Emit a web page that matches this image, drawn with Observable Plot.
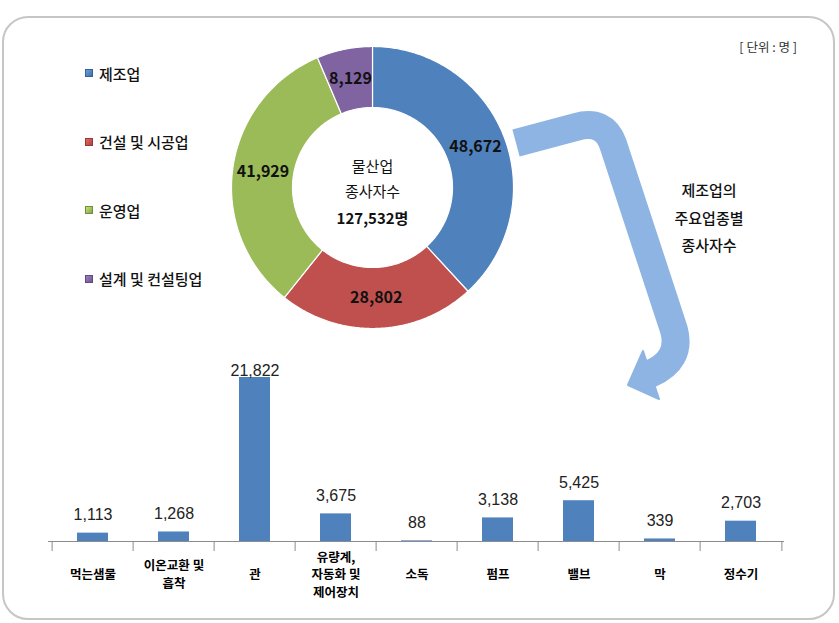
<!DOCTYPE html>
<html>
<head>
<meta charset="utf-8">
<script src="https://cdn.jsdelivr.net/npm/d3@7"></script>
<script src="https://cdn.jsdelivr.net/npm/@observablehq/plot@0.6"></script>
<style>
  body { margin: 0; background: #fff; }
  #wrap { position: relative; width: 839px; height: 623px; overflow: hidden; background: #fff;
          font-family: "Noto Sans CJK KR", "Noto Sans", sans-serif; color: #111; }
  #frame { position: absolute; left: 2px; top: 16px; width: 829px; height: 600px;
           border: 2px solid #c6c6c6; border-radius: 26px; }
  #donut { position: absolute; left: 222px; top: 37px; }
  #bars { position: absolute; left: 0; top: 340px; }
  #legend { position: absolute; left: 85px; top: 62px; }
  .item { display: flex; align-items: center; height: 22px; margin-bottom: 46.5px; font-size: 15px; font-weight: 500; }
  .sw { width: 8px; height: 8px; margin-right: 6px; box-sizing: border-box; }
  #unit { position: absolute; right: 42px; top: 37px; font-size: 12.5px; color: #333; white-space: pre; }
  #note { position: absolute; left: 649px; top: 176px; width: 120px; text-align: center;
          font-size: 15px; font-weight: 500; line-height: 27.5px; }
  #arrow { position: absolute; left: 0; top: 0; pointer-events: none; }
</style>
</head>
<body>
<div id="wrap">
  <div id="frame"></div>
  <div id="legend"></div>
  <div id="unit">[ 단위 : 명 ]</div>
  <div id="note">제조업의<br>주요업종별<br>종사자수</div>
  <div id="donut"></div>
  <div id="bars"></div>
  <svg id="arrow" width="839" height="623">
    <path d="M516,143 L576,127 Q604,119 613,144 L674,330 Q682,360 650,374" fill="none" stroke="#8db4e2" stroke-width="28" stroke-linejoin="round"/>
    <path d="M628,385 L643,351 L659,399 Z" fill="#8db4e2" stroke="#8db4e2" stroke-width="2" stroke-linejoin="round"/>
  </svg>
</div>
<script>
// ---- data ----
const sectors = ["제조업", "건설 및 시공업", "운영업", "설계 및 컨설팅업"];
const sectorValues = [48672, 28802, 41929, 8129];
const sectorColors = ["#4f81bd", "#c0504d", "#9bbb59", "#8064a2"];
const centerTitle = ["물산업", "종사자수"];
const unitSuffix = "명";

const industries = ["먹는샘물", "이온교환 및\n흡착", "관", "유량계,\n자동화 및\n제어장치", "소독", "펌프", "밸브", "막", "정수기"];
const workers = [1113, 1268, 21822, 3675, 88, 3138, 5425, 339, 2703];

const fmt = d3.format(",");

// ---- legend ----
const legend = document.getElementById("legend");
sectors.forEach((s, i) => {
  const row = document.createElement("div");
  row.className = "item";
  const sw = document.createElement("div");
  sw.className = "sw";
  const c = d3.color(sectorColors[i]);
  sw.style.background = `linear-gradient(135deg, ${c.brighter(0.6)}, ${c.darker(0.4)})`;
  sw.style.border = `1px solid ${c.darker(0.8)}`;
  row.appendChild(sw);
  const t = document.createElement("span");
  t.textContent = s;
  row.appendChild(t);
  legend.appendChild(row);
});

// ---- donut ----
const total = d3.sum(sectorValues);
const R = 141, r = 80, rl = 110.5;
let acc = 0;
const slices = sectors.map((s, i) => {
  const a0 = acc / total * 2 * Math.PI;
  acc += sectorValues[i];
  const a1 = acc / total * 2 * Math.PI;
  return { s, v: sectorValues[i], a0, a1 };
});
const pts = [];
for (const sl of slices) {
  const n = Math.max(2, Math.ceil((sl.a1 - sl.a0) / 0.01));
  for (let k = 0; k <= n; k++) {
    const a = sl.a0 + (sl.a1 - sl.a0) * k / n;
    pts.push({ s: sl.s, x: R * Math.sin(a), y: R * Math.cos(a) });
  }
  for (let k = n; k >= 0; k--) {
    const a = sl.a0 + (sl.a1 - sl.a0) * k / n;
    pts.push({ s: sl.s, x: r * Math.sin(a), y: r * Math.cos(a) });
  }
}
const donut = Plot.plot({
  width: 300, height: 300, margin: 0,
  x: { domain: [-150, 150], axis: null },
  y: { domain: [-150, 150], axis: null },
  color: { domain: sectors, range: sectorColors },
  style: { fontFamily: '"Noto Sans CJK KR", sans-serif', background: "transparent" },
  marks: [
    Plot.line(pts, { x: "x", y: "y", z: "s", fill: "s", stroke: "#ffffff", strokeWidth: 1.2, curve: "linear-closed" }),
    Plot.text(slices, {
      x: d => rl * Math.sin((d.a0 + d.a1) / 2),
      y: d => rl * Math.cos((d.a0 + d.a1) / 2),
      text: d => fmt(d.v), fontSize: 16, fontWeight: 700, fill: "#111"
    }),
    Plot.text([centerTitle[0]], { frameAnchor: "middle", dy: -20, text: d => d, fontSize: 15, fill: "#111" }),
    Plot.text([centerTitle[1]], { frameAnchor: "middle", dy: 5, text: d => d, fontSize: 15, fill: "#111" }),
    Plot.text([total], { frameAnchor: "middle", dy: 32, text: d => fmt(d) + unitSuffix, fontSize: 15, fontWeight: 700, fill: "#111" })
  ]
});
document.getElementById("donut").appendChild(donut);

// ---- bars ----
const data = industries.map((name, i) => ({ name, value: workers[i] }));
const W = 839, ML = 48, MR = 55;
const step = (W - ML - MR) / industries.length;
const maxV = d3.max(workers);
const bars = Plot.plot({
  width: W, height: 270, marginTop: 37, marginBottom: 69, marginLeft: ML, marginRight: MR,
  x: { domain: industries, paddingInner: 0.62, paddingOuter: 0.31, axis: null },
  y: { domain: [0, maxV], axis: null },
  style: { fontFamily: '"Noto Sans CJK KR", sans-serif', background: "transparent", overflow: "visible" },
  marks: [
    Plot.barY(data, { x: "name", y: "value", fill: "#4f81bd" }),
    Plot.ruleY([0], { stroke: "#8c8c8c" }),
    Plot.ruleX(industries, { x: d => d, y1: 0, y2: 0, insetBottom: -10, dx: -step / 2, stroke: "#8c8c8c" }),
    Plot.ruleX(industries.slice(-1), { x: d => d, y1: 0, y2: 0, insetBottom: -10, dx: step / 2, stroke: "#8c8c8c" }),
    Plot.text(data.filter(d => d.value < maxV), { x: "name", y: "value", dy: -18, text: d => fmt(d.value),
      fontSize: 16, fill: "#222", fontFamily: '"Liberation Sans", sans-serif' }),
    Plot.text(data.filter(d => d.value === maxV), { x: "name", y: "value", dy: -7, text: d => fmt(d.value),
      fontSize: 16, fill: "#222", fontFamily: '"Liberation Sans", sans-serif' }),
    Plot.text(data, { x: "name", y: 0, dy: 32, lineAnchor: "middle", text: "name", fontSize: 12.5,
      fontWeight: 700, fill: "#000", lineHeight: 1.4 })
  ]
});
document.getElementById("bars").appendChild(bars);
</script>
</body>
</html>
